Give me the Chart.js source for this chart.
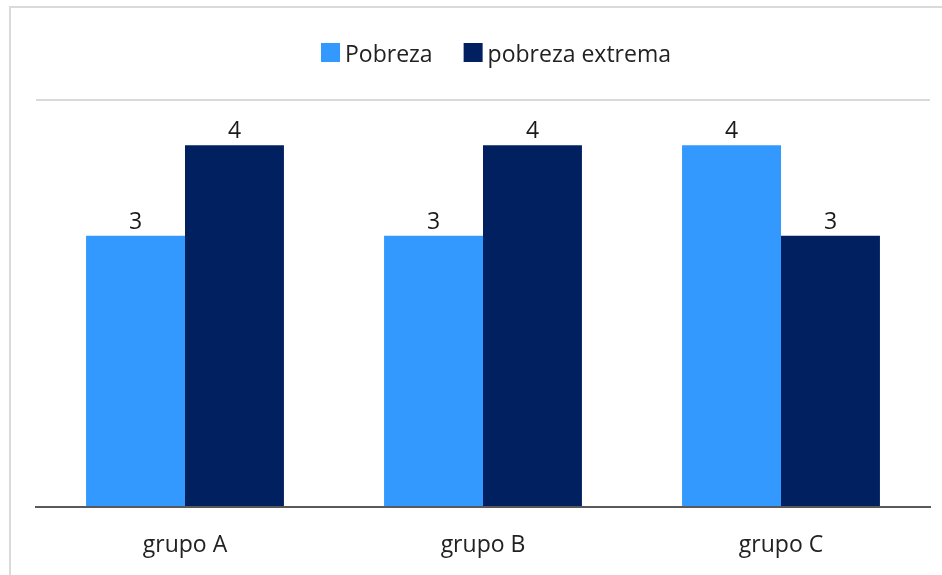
<!DOCTYPE html>
<html>
<head>
<meta charset="utf-8">
<title>Pobreza por grupo</title>
<script src="https://cdn.jsdelivr.net/npm/chart.js@4.4.1/dist/chart.umd.min.js"></script>
<style>
  html, body { margin: 0; padding: 0; background: #ffffff; }
  #wrap { position: relative; width: 942px; height: 575px; overflow: hidden; }
  #frame {
    position: absolute; left: 9px; top: 6px; width: 1000px; height: 1000px;
    border-left: 2px solid #dadada; border-top: 2px solid #dadada;
  }
  canvas { position: absolute; left: 0; top: 0; }
</style>
</head>
<body>
<div id="wrap">
  <div id="frame"></div>
  <canvas id="chart" width="942" height="575"></canvas>
</div>
<script>
// Categories and series
const categories = ['grupo A', 'grupo B', 'grupo C'];
const pobreza = [3, 3, 4];
const pobrezaExtrema = [4, 4, 3];
const seriesNames = ['Pobreza', 'pobreza extrema'];
const seriesColors = ['#3399ff', '#002060'];
const yMax = 4.5;

const FONT = '"Open Sans", "Noto Sans", sans-serif';
const TEXT_COLOR = '#222222';

// Value labels above each bar
const valueLabels = {
  id: 'valueLabels',
  afterDatasetsDraw(chart) {
    const ctx = chart.ctx;
    ctx.save();
    ctx.font = '23px ' + FONT;
    ctx.fillStyle = '#1a1a1a';
    ctx.textAlign = 'center';
    ctx.textBaseline = 'alphabetic';
    chart.data.datasets.forEach((ds, i) => {
      const meta = chart.getDatasetMeta(i);
      meta.data.forEach((bar, j) => {
        ctx.fillText(String(ds.data[j]), bar.x, bar.y - 7);
      });
    });
    ctx.restore();
  }
};

// Legend row above the plot
const topLegend = {
  id: 'topLegend',
  afterDraw(chart) {
    const ctx = chart.ctx;
    const box = 19, textGap = 5, itemGap = 31;
    const centerX = 496, boxTop = 43, baseline = 62;
    ctx.save();
    ctx.font = '23px ' + FONT;
    const items = chart.data.datasets.map(ds => ({
      label: ds.label, color: ds.backgroundColor, w: ctx.measureText(ds.label).width
    }));
    let total = 0;
    items.forEach((it, i) => { total += box + textGap + it.w + (i ? itemGap : 0); });
    let x = centerX - total / 2;
    items.forEach((it, i) => {
      if (i) x += itemGap;
      ctx.fillStyle = it.color;
      ctx.fillRect(x, boxTop, box, box);
      x += box + textGap;
      ctx.fillStyle = TEXT_COLOR;
      ctx.textAlign = 'left';
      ctx.textBaseline = 'alphabetic';
      ctx.fillText(it.label, x, baseline);
      x += it.w;
    });
    ctx.restore();
  }
};

new Chart(document.getElementById('chart'), {
  type: 'bar',
  data: {
    labels: categories,
    datasets: [
      { label: seriesNames[0], data: pobreza, backgroundColor: seriesColors[0] },
      { label: seriesNames[1], data: pobrezaExtrema, backgroundColor: seriesColors[1] }
    ]
  },
  options: {
    responsive: false,
    animation: false,
    devicePixelRatio: 1,
    datasets: { bar: { categoryPercentage: 0.664, barPercentage: 1.0 } },
    layout: { padding: { top: 100, left: 36, right: 12, bottom: 15 } },
    plugins: {
      legend: { display: false },
      tooltip: { enabled: false },
      title: { display: false }
    },
    scales: {
      x: {
        grid: { display: false, drawTicks: false },
        border: { display: true, color: '#595959', width: 2 },
        ticks: {
          padding: 25,
          color: TEXT_COLOR,
          font: { family: FONT, size: 23 }
        },
        afterFit(scale) { scale.height = 53; }
      },
      y: {
        min: 0,
        max: yMax,
        ticks: { display: false, stepSize: yMax },
        border: { display: false },
        grid: {
          drawTicks: false,
          lineWidth: 2,
          color: ctx => (ctx.tick && ctx.tick.value === yMax) ? '#d9d9d9' : 'rgba(0,0,0,0)'
        },
        afterFit(scale) { scale.width = 0; }
      }
    }
  },
  plugins: [valueLabels, topLegend]
});
</script>
</body>
</html>
